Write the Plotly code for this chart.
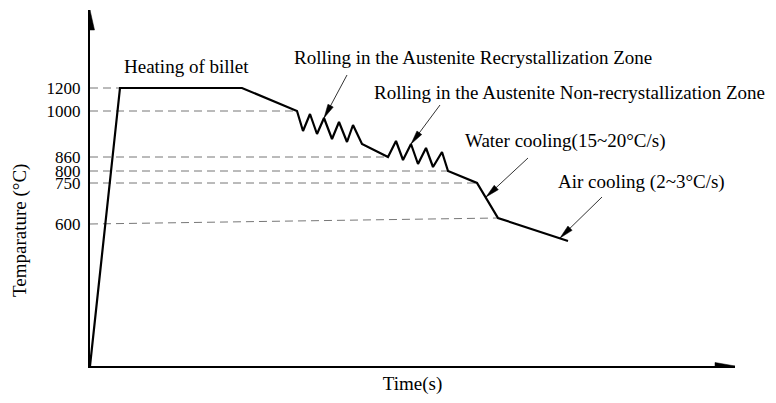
import math
import plotly.graph_objects as go

# Schematic temperature axis: tick labels and their levels on the diagram
temp_labels = ["1200", "1000", "860", "800", "750", "600"]
temp_levels = [278, 255, 209, 195, 183, 142]

# Thermo-mechanical process path (schematic time, schematic level)
path_time = [0, 30, 152, 207, 213, 220, 227, 234, 242, 249, 257, 263, 272,
             298, 306, 313, 321, 328, 336, 343, 352, 358, 387, 408, 478]
path_level = [0, 278, 278, 255, 235, 252, 232, 248, 227, 244, 224, 241, 222,
              209, 225, 206, 222, 202, 218, 199, 214, 195, 183, 148, 125]

# Dashed guide lines from the axis to the path
guide_end_time = [30, 207, 298, 358, 387, 408]
guide_end_level = [278, 255, 209, 195, 183, 148]

# Stage labels
stage_text = ["Heating of billet",
              "Rolling in the Austenite Recrystallization Zone",
              "Rolling in the Austenite Non-recrystallization Zone",
              "Water cooling(15~20°C/s)",
              "Air cooling (2~3°C/s)"]
stage_x = [32, 202, 282, 373, 466]
stage_y = [300, 309, 274, 225, 184]

# Callout arrows (start -> tip)
arrow_x0 = [257, 350, 438, 512]
arrow_y0 = [291, 261, 208, 169]
arrow_x1 = [234, 321, 396, 470]
arrow_y1 = [248, 222, 169, 128]

X_MAX, Y_MAX = 645, 356
FONT = "Liberation Serif, Times New Roman, serif"

fig = go.Figure()

for i in range(len(temp_levels)):
    fig.add_trace(go.Scatter(
        x=[0, guide_end_time[i]], y=[temp_levels[i], guide_end_level[i]],
        mode="lines", line=dict(color="#777777", width=1, dash="8px,5px"),
        hoverinfo="skip", showlegend=False))

fig.add_trace(go.Scatter(
    x=path_time, y=path_level, mode="lines",
    line=dict(color="black", width=2.2), cliponaxis=False,
    showlegend=False, hoverinfo="skip"))


def head_path(x0, y0, x1, y1, length, width):
    dx, dy = x1 - x0, y1 - y0
    d = math.hypot(dx, dy)
    ux, uy = dx / d, dy / d
    bx, by = x1 - ux * length, y1 - uy * length
    px, py = -uy * width / 2, ux * width / 2
    return (f"M{x1},{y1} L{bx + px},{by + py} L{bx - px},{by - py} Z")


shapes = []
for i in range(len(arrow_x0)):
    shapes.append(dict(type="line", xref="x", yref="y",
                       x0=arrow_x0[i], y0=arrow_y0[i],
                       x1=arrow_x1[i], y1=arrow_y1[i],
                       line=dict(color="#333333", width=1)))
    shapes.append(dict(type="path", xref="x", yref="y",
                       path=head_path(arrow_x0[i], arrow_y0[i],
                                      arrow_x1[i], arrow_y1[i], 14, 6),
                       fillcolor="black", line=dict(color="black", width=0.5)))

# axis arrowheads
shapes.append(dict(type="path", xref="x", yref="y",
                   path=head_path(0, 0, 0, Y_MAX, 20, 9),
                   fillcolor="black", line=dict(color="black", width=0.5)))
shapes.append(dict(type="path", xref="x", yref="y",
                   path=head_path(0, 0, X_MAX, 0, 20, 7),
                   fillcolor="black", line=dict(color="black", width=0.5)))

annotations = []
for t, x, y in zip(stage_text, stage_x, stage_y):
    annotations.append(dict(text=t, x=x, y=y, xref="x", yref="y",
                            xanchor="left", yanchor="middle", showarrow=False,
                            font=dict(family=FONT, size=19, color="black")))

# y-axis title (rotated text placed in paper coordinates, left of the axis)
annotations.append(dict(text="Temparature (°C)", x=-70 / X_MAX, y=135 / Y_MAX,
                        xref="paper", yref="paper", textangle=-90,
                        xanchor="center", yanchor="middle", showarrow=False,
                        font=dict(family=FONT, size=19, color="black")))

fig.update_layout(
    width=776, height=403,
    margin=dict(l=90, r=41, t=10, b=37),
    paper_bgcolor="white", plot_bgcolor="white",
    shapes=shapes, annotations=annotations,
    xaxis=dict(range=[0, X_MAX], showgrid=False, zeroline=False,
               showline=True, linecolor="black", linewidth=2,
               showticklabels=False, ticks="",
               title=dict(text="Time(s)", standoff=10,
                          font=dict(family=FONT, size=19, color="black"))),
    yaxis=dict(range=[0, Y_MAX], showgrid=False, zeroline=False,
               showline=True, linecolor="black", linewidth=2,
               tickmode="array", tickvals=temp_levels, ticktext=temp_labels,
               ticks="", ticklabelstandoff=4,
               tickfont=dict(family=FONT, size=17, color="black")),
)

fig.write_html("out.html")
